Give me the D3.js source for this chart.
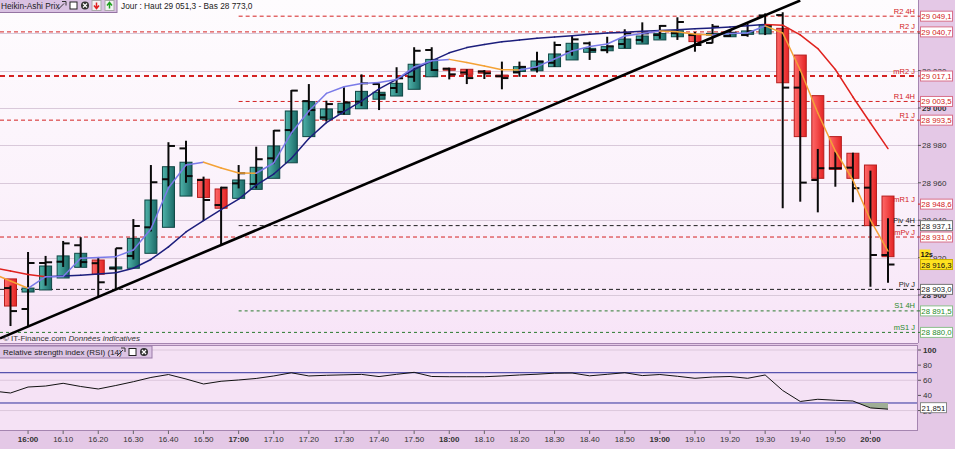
<!DOCTYPE html>
<html><head><meta charset="utf-8">
<script src="https://cdn.jsdelivr.net/npm/d3@7/dist/d3.min.js"></script>
<style>
html,body{margin:0;padding:0;background:#fff;overflow:hidden}
svg{display:block;font-family:"Liberation Sans",Arial,Helvetica,sans-serif}
</style></head><body>
<svg id="chart" width="955" height="449"></svg>
<script>
// ================= DATA =================
const indicatorTimes = ["15:50","15:55","16:00","16:05","16:10","16:15","16:20","16:25","16:30","16:35","16:40","16:45","16:50","16:55","17:00","17:05","17:10","17:15","17:20","17:25","17:30","17:35","17:40","17:45","17:50","17:55","18:00","18:05","18:10","18:15","18:20","18:25","18:30","18:35","18:40","18:45","18:50","18:55","19:00","19:05","19:10","19:15","19:20","19:25","19:30","19:35","19:40","19:45","19:50","19:55","20:00","20:05"];
const candleTimes = indicatorTimes.slice(1);

// Heikin-Ashi bodies
const haOpen = [28908.6,28901.6,28902.7,28909.1,28914.8,28918.7,28913.9,28914.3,28922.3,28936.2,
28952.9,28961.9,28956.7,28951.7,28956.5,28962.4,28970.7,28984.7,28994.0,28996.6,
28999.6,29004.7,29006.4,29010.0,29016.7,29021.2,29020.7,29019.8,29017.6,29019.5,
29019.9,29022.1,29025.7,29029.8,29030.6,29031.9,29034.2,29036.4,29038.1,29039.4,
29039.0,29038.1,29039.4,29039.6,29042.6,29028.3,29006.6,28984.7,28975.8,28969.5,
28952.9];
const haClose = [28894.1,28903.7,28915.5,28920.9,28922.3,28911.1,28915.0,28930.3,28950.8,28968.6,
28971.0,28952.2,28946.4,28961.5,28968.3,28979.7,28998.4,29003.4,28999.5,29002.5,
29008.9,29008.4,29013.2,29023.4,29026.0,29020.2,29018.0,29018.6,29016.7,29022.1,
29025.1,29028.9,29034.6,29031.9,29032.8,29036.9,29038.5,29039.9,29041.3,29035.5,
29039.9,29040.5,29041.2,29044.4,29013.5,28984.7,28962.4,28967.2,28962.4,28937.1,
28920.5];
// Real OHLC bars drawn over the bodies
const barHigh = [28905.0,28923.0,28920.9,28928.9,28930.9,28919.9,28925.0,28940.6,28969.5,28981.7,
28982.5,28963.3,28957.9,28969.5,28979.3,28988.2,29009.6,29012.8,29003.9,29011.1,
29018.0,29013.2,29021.8,29032.5,29032.5,29021.6,29020.7,29020.3,29024.8,29024.8,
29030.1,29035.5,29038.5,29035.5,29038.1,29042.1,29045.8,29044.4,29048.5,29040.7,
29044.9,29041.7,29044.9,29050.6,29051.2,29019.8,28978.1,28976.6,28976.1,28966.5,
28941.0];
const barLow = [28883.4,28883.4,28905.0,28915.0,28915.0,28899.1,28903.0,28919.0,28934.0,28958.0,
28960.0,28939.6,28927.1,28957.0,28957.0,28970.0,28986.0,28996.0,28992.7,28996.5,
29001.0,28998.9,29008.0,29014.0,29019.8,29015.3,29012.8,29015.5,29010.0,29016.7,
29019.0,29022.0,29028.0,29025.7,29029.3,29032.0,29035.0,29037.0,29036.4,29030.1,
29034.6,29038.0,29038.1,29039.0,28946.4,28949.9,28944.2,28957.9,28949.6,28904.4,
28906.6];
const barOpen = [28903.7,28892.5,28917.1,28917.8,28926.6,28917.0,28914.3,28920.9,28936.2,28961.9,
28978.4,28961.5,28948.1,28959.7,28959.4,28973.1,28988.2,29003.7,28995.0,28997.9,
29003.4,29012.8,29010.7,29016.7,29031.0,29021.0,29019.0,29019.5,29017.0,29019.0,
29021.0,29024.2,29030.1,29034.6,29031.0,29034.2,29036.4,29039.0,29040.0,29039.0,
29034.8,29038.5,29039.0,29049.5,29049.7,29010.9,28961.5,28967.8,28968.1,28957.4,
28921.4];
const barClose = [28891.4,28917.1,28917.5,28927.6,28917.6,28906.8,28925.0,28936.9,28960.3,28979.7,
28963.6,28950.8,28957.4,28965.1,28972.6,28987.9,29009.3,28998.9,29002.1,29003.0,
29013.2,29007.0,29015.9,29030.6,29020.3,29018.0,29016.0,29018.5,29016.0,29022.0,
29024.8,29033.7,29036.7,29031.0,29033.0,29039.9,29039.9,29043.9,29046.0,29033.7,
29043.5,29040.0,29041.0,29044.0,29010.9,28960.1,28967.8,28967.8,28957.1,28921.4,
28916.3];

// Moving averages (aligned with indicatorTimes)
const fastMA = [28911.4,28907.5,28903.6,28909.8,28909.9,28919.6,28920.1,28920.5,28924.1,28935.3,
28957.2,28969.5,28971.0,28967.9,28965.2,28965.1,28970.6,28986.6,28998.4,29007.8,
29011.4,29013.1,29013.6,29015.3,29021.9,29025.3,29026.0,29024.3,29022.5,29020.5,
29020.3,29022.1,29026.2,29030.5,29032.9,29034.2,29038.5,29039.9,29041.2,29040.8,
29039.4,29039.0,29039.9,29040.1,29043.9,29040.1,29020.3,28997.3,28977.0,28961.5,
28940.1,28923.5];
const slowMA = [28914.6,28912.8,28911.0,28909.8,28910.1,28910.6,28911.2,28911.9,28914.3,28919.0,
28925.7,28933.7,28939.8,28945.7,28951.3,28958.8,28964.7,28973.0,28983.7,28992.2,
28998.1,29003.7,29010.2,29015.3,29020.6,29025.2,29029.5,29032.3,29034.0,29035.4,
29036.4,29037.3,29038.0,29038.6,29039.4,29040.1,29040.5,29041.0,29041.4,29041.9,
29042.4,29042.8,29043.3,29044.0,29044.7,29044.3,29039.1,29031.8,29020.6,29005.9,
28992.0,28978.3];
const rsi = [45.8,43.2,51.1,52.4,56.0,51.8,48.5,53.1,58.1,63.7,
67.6,61.7,55.1,58.7,60.4,62.4,65.7,69.9,65.7,66.6,
67.2,67.8,64.9,67.9,70.5,65.0,64.7,64.7,64.7,65.7,
67.0,68.0,69.4,69.6,65.9,67.9,70.0,66.2,67.6,65.3,
62.6,64.3,65.0,62.6,67.0,46.5,32.0,34.9,33.6,32.6,
23.5,21.851];

// Trend line (two anchor points)
const trendTimes = ["15:52","19:40"];
const trendPrices = [28876.8,29057.5];

// Pivot levels
const levelNames  = ["R2 4H","R2 J","mR2 J","R1 4H","R1 J","mR1 J","Piv 4H","mPv J","Piv J","S1 4H","mS1 J"];
const levelValues = [29049.1,29040.7,29017.1,29003.5,28993.5,28948.6,28937.1,28931.0,28903.0,28891.5,28880.0];
const levelKinds  = ["r","r","r","r","r","r","p","r","p","s","s"];
const levelStarts = ["17:00","15:50","15:50","17:00","15:50",null,"17:00","15:50","15:50","17:00","15:50"];

const lastPrice = 28916.3;
const countdown = "12s";
const priceTicks = [28900,28920,28940,28960,28980,29000,29020,29040];
const rsiTicks = [100,80,60,40,20];
const rsiGrid = [100,60,20];
const rsiBands = [70,30];
const timeTickLabels = ["16:00","16.10","16.20","16.30","16.40","16.50","17:00","17.10","17.20","17.30","17.40","17.50","18:00","18.10","18.20","18.30","18.40","18.50","19:00","19.10","19.20","19.30","19.40","19.50","20:00"];
const headerTitle = "Heikin-Ashi Prix";
const headerInfo = "Jour : Haut 29 051,3 - Bas 28 773,0";
const rsiTitle = "Relative strength index (RSI) (14)";
const footerA = "© IT-Finance.com ";
const footerB = "Données indicatives";

// ================= CHART =================
const svg = d3.select("#chart");
const parse = d3.timeParse("%H:%M");
const PR = 918, PB = 343;           // main plot right / bottom
const RT = 345.5, RB = 430.5;       // rsi panel top / bottom
const x = d3.scaleTime().domain([parse("15:55"), parse("20:05")]).range([10.5, 888]);
const y = d3.scaleLinear().domain([28900, 29000]).range([295, 108]);
const ry = d3.scaleLinear().domain([0, 100]).range([425.7, 350]);

const fmtInt = n => d3.format(",")(n).replace(/,/g, " ");
const fmtDec = v => d3.format(",.1f")(v).replace(/,/g, " ").replace(".", ",");

const defs = svg.append("defs");
const gT = defs.append("linearGradient").attr("id","gTeal").attr("x1",0).attr("x2",1).attr("y1",0).attr("y2",0);
gT.append("stop").attr("offset","0%").attr("stop-color","#4fb3aa");
gT.append("stop").attr("offset","100%").attr("stop-color","#1b6a67");
const gR = defs.append("linearGradient").attr("id","gRed").attr("x1",0).attr("x2",1).attr("y1",0).attr("y2",0);
gR.append("stop").attr("offset","0%").attr("stop-color","#ff6a6a");
gR.append("stop").attr("offset","100%").attr("stop-color","#e42424");
const gBg = defs.append("linearGradient").attr("id","gBg").attr("x1",0).attr("x2",0).attr("y1",0).attr("y2",1);
gBg.append("stop").attr("offset","0%").attr("stop-color","#fefcfe");
gBg.append("stop").attr("offset","55%").attr("stop-color","#fbf2fb");
gBg.append("stop").attr("offset","100%").attr("stop-color","#f7e4f7");
defs.append("clipPath").attr("id","clipMain").append("rect").attr("x",0).attr("y",0).attr("width",PR).attr("height",PB);
defs.append("clipPath").attr("id","clipRsi").append("rect").attr("x",0).attr("y",RT).attr("width",PR-1).attr("height",RB-RT);
defs.append("clipPath").attr("id","clipBelow30").append("rect").attr("x",0).attr("y",ry(30)).attr("width",PR-1).attr("height",RB-ry(30));

// backgrounds
svg.append("rect").attr("width",955).attr("height",449).attr("fill","#e4c8e6");
svg.append("rect").attr("x",0).attr("y",0).attr("width",PR).attr("height",PB).attr("fill","url(#gBg)");
svg.append("rect").attr("x",0).attr("y",RT).attr("width",PR-1).attr("height",RB-RT).attr("fill","#f5e2f5");
const border = "#a585b0";
svg.append("line").attr("x1",0).attr("x2",PR).attr("y1",PB+0.5).attr("y2",PB+0.5).attr("stroke",border);
svg.append("line").attr("x1",0).attr("x2",PR).attr("y1",RT).attr("y2",RT).attr("stroke",border);
svg.append("line").attr("x1",0).attr("x2",PR).attr("y1",RB).attr("y2",RB).attr("stroke",border);
svg.append("line").attr("x1",PR+0.5).attr("x2",PR+0.5).attr("y1",0).attr("y2",PB).attr("stroke",border);
svg.append("line").attr("x1",PR-0.5).attr("x2",PR-0.5).attr("y1",RT).attr("y2",RB).attr("stroke",border);

// ---- main plot ----
const main = svg.append("g").attr("clip-path","url(#clipMain)");
main.selectAll("line.grid").data(priceTicks).join("line").attr("class","grid")
  .attr("x1",0).attr("x2",PR).attr("y1",d=>Math.round(y(d))+0.5).attr("y2",d=>Math.round(y(d))+0.5)
  .attr("stroke","#d9c9da").attr("stroke-width",1);

const kindColor = {r:"#d42222", p:"#1e1e1e", s:"#2a7a2e"};
const kindText = {r:"#d21a1a", p:"#222", s:"#2a8a2a"};
const heavy = new Set(["mR2 J"]);
const levels = levelNames.map((n,i)=>({name:n, v:levelValues[i], k:levelKinds[i], s:levelStarts[i]}));
main.selectAll("line.lvl").data(levels.filter(d=>d.s)).join("line").attr("class","lvl")
  .attr("x1",d=>Math.max(0,x(parse(d.s)))).attr("x2",PR)
  .attr("y1",d=>y(d.v)).attr("y2",d=>y(d.v))
  .attr("stroke",d=>kindColor[d.k]).attr("stroke-width",d=>heavy.has(d.name)?2.2:1)
  .attr("stroke-dasharray",d=>heavy.has(d.name)?"5,4":(d.k==="s"?"3,3":"4,3"));

// candles
const candles = candleTimes.map((t,i)=>({t:parse(t), o:haOpen[i], c:haClose[i], h:barHigh[i], l:barLow[i], bo:barOpen[i], bc:barClose[i]}));
const cg = main.append("g");
cg.selectAll("rect.body").data(candles).join("rect").attr("class","body")
  .attr("x",d=>x(d.t)-6).attr("width",12)
  .attr("y",d=>y(Math.max(d.o,d.c)))
  .attr("height",d=>Math.max(1.5, Math.abs(y(d.o)-y(d.c))))
  .attr("fill",d=>d.c>=d.o?"url(#gTeal)":"url(#gRed)")
  .attr("stroke",d=>d.c>=d.o?"#0e4543":"#b51c1c").attr("stroke-width",1);
cg.selectAll("line.bar").data(candles).join("line").attr("class","bar")
  .attr("x1",d=>x(d.t)).attr("x2",d=>x(d.t)).attr("y1",d=>y(d.h)).attr("y2",d=>y(d.l))
  .attr("stroke","#0a0a0a").attr("stroke-width",2);
cg.selectAll("line.bo").data(candles).join("line").attr("class","bo")
  .attr("x1",d=>x(d.t)-6.5).attr("x2",d=>x(d.t)).attr("y1",d=>y(d.bo)).attr("y2",d=>y(d.bo))
  .attr("stroke","#0a0a0a").attr("stroke-width",2);
cg.selectAll("line.bc").data(candles).join("line").attr("class","bc")
  .attr("x1",d=>x(d.t)).attr("x2",d=>x(d.t)+6.5).attr("y1",d=>y(d.bc)).attr("y2",d=>y(d.bc))
  .attr("stroke","#0a0a0a").attr("stroke-width",2);

// moving averages, coloured by direction
function maSegments(vals, up, down, w){
  const pts = indicatorTimes.map((t,i)=>({t:parse(t), v:vals[i]}));
  const segs = d3.pairs(pts);
  main.append("g").selectAll("line").data(segs).join("line")
    .attr("x1",d=>x(d[0].t)).attr("y1",d=>y(d[0].v)).attr("x2",d=>x(d[1].t)).attr("y2",d=>y(d[1].v))
    .attr("stroke",d=>d[1].v>=d[0].v?up:down).attr("stroke-width",w).attr("stroke-linecap","round");
}
maSegments(slowMA, "#1c1e7c", "#e0221e", 1.5);
maSegments(fastMA, "#7a7ae8", "#f4a236", 1.5);

// trend line
const trend = trendTimes.map((t,i)=>({t:parse(t), v:trendPrices[i]}));
main.append("path").datum(trend).attr("d", d3.line().x(d=>x(d.t)).y(d=>y(d.v)))
  .attr("stroke","#000").attr("stroke-width",2.6).attr("fill","none");

// level labels
svg.append("g").selectAll("text").data(levels).join("text")
  .attr("x",915).attr("y",d=>y(d.v)-2.5).attr("text-anchor","end")
  .attr("font-size",7.5).attr("fill",d=>kindText[d.k]).text(d=>d.name);

// footer
const ft = svg.append("text").attr("x",3).attr("y",340.5).attr("font-size",8).attr("fill","#333");
ft.append("tspan").text(footerA);
ft.append("tspan").attr("font-style","italic").text(footerB);

// header
function iconSet(g, x0, yc, withArrows){
  g.append("path").attr("d",`M${x0},${yc+4} L${x0+6},${yc-2} M${x0+4},${yc-4} L${x0+8},${yc-4} L${x0+8},${yc}`)
    .attr("stroke","#333").attr("stroke-width",1).attr("fill","none");
  g.append("rect").attr("x",x0+12).attr("y",yc-3.5).attr("width",7).attr("height",7).attr("fill","#fff").attr("stroke","#222");
  g.append("circle").attr("cx",x0+27).attr("cy",yc).attr("r",4).attr("fill","#333");
  g.append("path").attr("d",`M${x0+25},${yc-2} L${x0+29},${yc+2} M${x0+29},${yc-2} L${x0+25},${yc+2}`).attr("stroke","#fff").attr("stroke-width",1.2);
  if(withArrows){
    g.append("rect").attr("x",x0+34).attr("y",yc-5).attr("width",9).attr("height",10).attr("fill","#f2f2f2").attr("stroke","#aaa");
    g.append("path").attr("d",`M${x0+38.5},${yc-3} L${x0+38.5},${yc+2} M${x0+36},${yc} L${x0+38.5},${yc+3} L${x0+41},${yc}`).attr("stroke","#e02020").attr("stroke-width",1.5).attr("fill","none");
    g.append("rect").attr("x",x0+47).attr("y",yc-5).attr("width",9).attr("height",10).attr("fill","#f2f2f2").attr("stroke","#aaa");
    g.append("path").attr("d",`M${x0+51.5},${yc+3} L${x0+51.5},${yc-2} M${x0+49},${yc} L${x0+51.5},${yc-3} L${x0+54},${yc}`).attr("stroke","#20a020").attr("stroke-width",1.5).attr("fill","none");
  }
}
const hg = svg.append("g");
hg.append("rect").attr("x",-1).attr("y",-1).attr("width",118).attr("height",13.5).attr("fill","#d9c1e2").attr("stroke","#9574a3");
hg.append("text").attr("x",1).attr("y",9).attr("font-size",8.3).attr("fill","#222").text(headerTitle);
iconSet(hg, 58, 5.5, true);
hg.append("text").attr("x",121).attr("y",9).attr("font-size",8.3).attr("fill","#222").text(headerInfo);

// ---- right axis (price) ----
const ax = svg.append("g");
ax.selectAll("line.tk").data(priceTicks).join("line").attr("class","tk")
  .attr("x1",PR).attr("x2",PR+3).attr("y1",d=>y(d)).attr("y2",d=>y(d)).attr("stroke","#555");
ax.selectAll("text.tk").data(priceTicks).join("text").attr("class","tk")
  .attr("x",922).attr("y",d=>y(d)+3).attr("font-size",8)
  .attr("font-weight",d=>d%100===0?"bold":"normal").attr("fill","#333").text(fmtInt);
const boxStroke = {r:"#d8708a", p:"#777", s:"#8cc08c"};
const bx = ax.selectAll("g.box").data(levels).join("g").attr("class","box");
bx.append("line").attr("x1",PR).attr("x2",921).attr("y1",d=>y(d.v)).attr("y2",d=>y(d.v)).attr("stroke",d=>kindColor[d.k]);
bx.append("rect").attr("x",920.5).attr("y",d=>y(d.v)-5).attr("width",32).attr("height",10)
  .attr("fill","#fff").attr("stroke",d=>boxStroke[d.k]);
bx.append("text").attr("x",936.5).attr("y",d=>y(d.v)+3).attr("text-anchor","middle").attr("font-size",7.8)
  .attr("fill",d=>kindText[d.k]).text(d=>fmtDec(d.v));
// last price + countdown
ax.append("rect").attr("x",920.5).attr("y",y(lastPrice)-5).attr("width",32).attr("height",10).attr("fill","#ffe21f").attr("stroke","#c9b000");
ax.append("text").attr("x",936.5).attr("y",y(lastPrice)+3).attr("text-anchor","middle").attr("font-size",7.8).attr("fill","#111").text(fmtDec(lastPrice));
ax.append("rect").attr("x",919.5).attr("y",y(lastPrice)-15).attr("width",11).attr("height",9.5).attr("fill","#ffe21f");
ax.append("text").attr("x",920.5).attr("y",y(lastPrice)-7.5).attr("font-size",7.5).attr("font-weight","bold").attr("fill","#111").text(countdown);

// ---- RSI panel ----
const rg = svg.append("g").attr("clip-path","url(#clipRsi)");
rg.selectAll("line.g").data(rsiGrid).join("line").attr("class","g")
  .attr("x1",0).attr("x2",PR).attr("y1",d=>ry(d)).attr("y2",d=>ry(d)).attr("stroke","#dcc8dc");
rg.selectAll("line.b").data(rsiBands).join("line").attr("class","b")
  .attr("x1",0).attr("x2",PR).attr("y1",d=>ry(d)).attr("y2",d=>ry(d)).attr("stroke","#2f2f9c").attr("stroke-width",1);
const rpts = indicatorTimes.map((t,i)=>({t:parse(t), v:rsi[i]}));
rg.append("path").datum(rpts).attr("clip-path","url(#clipBelow30)")
  .attr("d", d3.area().x(d=>x(d.t)).y0(ry(30)).y1(d=>ry(d.v)))
  .attr("fill","#9fae96");
rg.append("path").datum(rpts).attr("d", d3.line().x(d=>x(d.t)).y(d=>ry(d.v)))
  .attr("fill","none").attr("stroke","#111").attr("stroke-width",1);
const rh = svg.append("g");
rh.append("rect").attr("x",-1).attr("y",RT+0.5).attr("width",153).attr("height",12).attr("fill","#dcc4e4").attr("stroke","#9a7aa8");
rh.append("text").attr("x",3).attr("y",RT+9.5).attr("font-size",8).attr("fill","#222").text(rsiTitle);
iconSet(rh, 117, RT+6.5, false);
ax.selectAll("line.rt").data(rsiTicks).join("line").attr("class","rt")
  .attr("x1",PR).attr("x2",PR+3).attr("y1",d=>ry(d)).attr("y2",d=>ry(d)).attr("stroke","#555");
ax.selectAll("text.rt").data(rsiTicks).join("text").attr("class","rt")
  .attr("x",923).attr("y",d=>ry(d)+3).attr("font-size",8)
  .attr("font-weight",d=>d===100?"bold":"normal").attr("fill","#333").text(d=>d);
const rLast = rsi[rsi.length-1];
ax.append("rect").attr("x",920.5).attr("y",ry(rLast)-6.5).attr("width",26).attr("height",10).attr("fill","#fff").attr("stroke","#888");
ax.append("text").attr("x",933.5).attr("y",ry(rLast)+1.5).attr("text-anchor","middle").attr("font-size",7.8).attr("fill","#222")
  .text(d3.format(".3f")(rLast).replace(".",","));

// ---- time axis ----
const tg = svg.append("g");
const tks = timeTickLabels.map(l=>({l, t:parse(l.replace(".",":"))}));
tg.selectAll("line").data(tks).join("line")
  .attr("x1",d=>x(d.t)).attr("x2",d=>x(d.t)).attr("y1",RB).attr("y2",RB+3.5).attr("stroke","#666");
tg.selectAll("text").data(tks).join("text")
  .attr("x",d=>x(d.t)).attr("y",442).attr("text-anchor","middle").attr("font-size",8)
  .attr("font-weight",d=>d.l.endsWith(":00")?"bold":"normal").attr("fill","#333").text(d=>d.l);
</script>
</body></html>
